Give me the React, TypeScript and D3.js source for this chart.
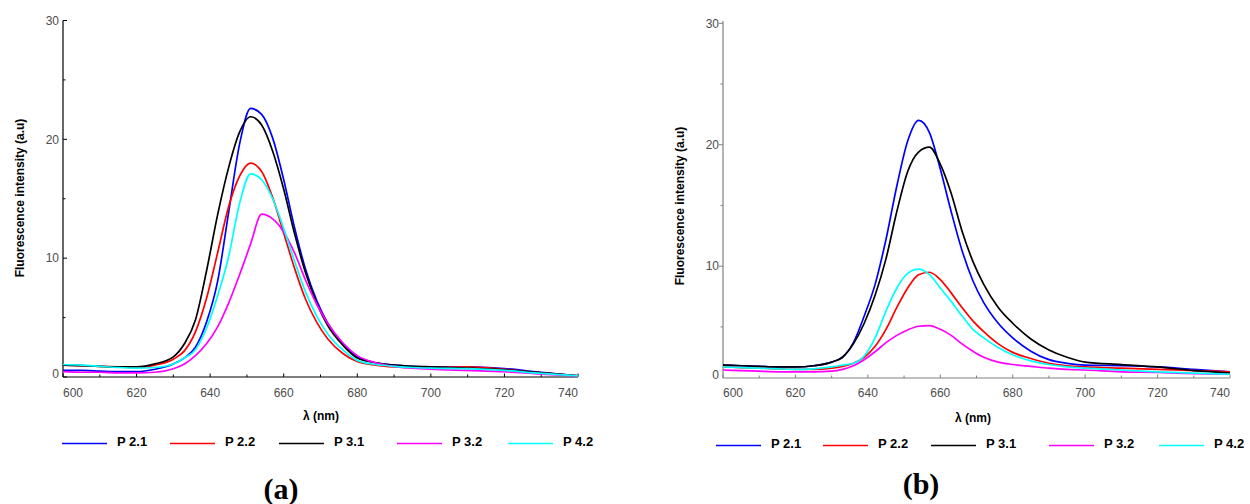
import React, { useEffect, useRef } from "react";
import * as d3 from "d3";

// wavelength grid (nm) shared by all spectra
const wavelengths = [600, 605, 610, 615, 620, 625, 630, 633, 636, 639, 642, 645, 648, 651, 654, 657, 660, 663, 666, 669, 672, 676, 680, 685, 690, 695, 700, 710, 720, 730, 740];

const seriesNames = ["P 2.1", "P 2.2", "P 3.1", "P 3.2", "P 4.2"];
const seriesColors = ["#0000ff", "#ff0000", "#000000", "#ff00ff", "#00ffff"];

// panel (a) intensities
const aP21 = [0.55, 0.55, 0.5, 0.45, 0.45, 0.65, 1.1, 1.6, 2.5, 4.6, 8.0, 13.8, 19.6, 22.6, 22.1, 20.1, 16.6, 12.5, 9.0, 6.4, 4.5, 2.8, 1.7, 1.2, 1.0, 0.9, 0.85, 0.85, 0.7, 0.4, 0.1];
const aP22 = [1.0, 0.95, 0.9, 0.85, 0.8, 1.0, 1.5, 2.2, 3.8, 6.6, 10.4, 14.3, 16.9, 18.0, 17.3, 15.1, 12.1, 9.1, 6.5, 4.6, 3.2, 2.0, 1.3, 1.0, 0.85, 0.8, 0.8, 0.85, 0.65, 0.35, 0.1];
const aP31 = [1.0, 0.95, 0.9, 0.85, 0.85, 1.1, 1.7, 2.8, 4.8, 8.9, 13.6, 17.6, 20.6, 21.9, 21.2, 19.0, 15.8, 12.0, 8.7, 6.2, 4.3, 2.7, 1.6, 1.2, 1.0, 0.9, 0.85, 0.75, 0.6, 0.35, 0.1];
const aP32 = [0.45, 0.4, 0.4, 0.35, 0.35, 0.4, 0.7, 1.1, 1.8, 2.8, 4.2, 6.2, 8.6, 11.2, 13.7, 13.3, 12.2, 10.4, 8.1, 6.1, 4.5, 2.9, 1.8, 1.2, 0.9, 0.75, 0.65, 0.55, 0.45, 0.25, 0.1];
const aP42 = [1.05, 1.0, 0.9, 0.8, 0.75, 0.8, 1.1, 1.6, 2.3, 4.1, 6.8, 10.1, 14.6, 17.1, 16.6, 15.0, 12.5, 9.7, 7.1, 5.1, 3.6, 2.3, 1.4, 1.05, 0.9, 0.8, 0.75, 0.7, 0.55, 0.3, 0.1];

// panel (b) intensities
const bP21 = [1.85, 1.8, 1.75, 1.7, 1.7, 1.8, 2.1, 2.5, 3.7, 5.9, 8.5, 12.2, 16.6, 20.3, 22.0, 21.0, 18.0, 14.5, 11.3, 8.8, 7.0, 5.3, 4.1, 3.0, 2.3, 2.0, 1.85, 1.8, 1.7, 1.5, 1.3];
const bP22 = [1.7, 1.65, 1.6, 1.55, 1.5, 1.5, 1.6, 1.75, 2.0, 2.5, 3.4, 4.8, 6.6, 8.2, 9.3, 9.5, 8.9, 7.8, 6.6, 5.5, 4.6, 3.6, 2.9, 2.4, 2.0, 1.8, 1.7, 1.6, 1.5, 1.4, 1.3];
const bP31 = [1.85, 1.8, 1.75, 1.7, 1.7, 1.8, 2.1, 2.5, 3.6, 5.3, 7.6, 10.6, 14.5, 17.8, 19.4, 19.8, 18.4, 16.0, 12.9, 10.4, 8.5, 6.6, 5.3, 4.0, 3.1, 2.5, 2.1, 1.9, 1.7, 1.4, 1.2];
const bP32 = [1.45, 1.4, 1.35, 1.3, 1.3, 1.3, 1.35, 1.5, 1.8, 2.3, 2.95, 3.7, 4.3, 4.75, 5.05, 5.1, 4.8, 4.3, 3.6, 3.0, 2.5, 2.1, 1.9, 1.75, 1.6, 1.5, 1.45, 1.3, 1.25, 1.15, 1.1];
const bP42 = [1.7, 1.65, 1.6, 1.55, 1.5, 1.55, 1.7, 1.85, 2.0, 2.6, 4.1, 6.3, 8.2, 9.4, 9.75, 9.3, 8.2, 7.1, 5.9, 4.8, 4.1, 3.3, 2.7, 2.2, 1.9, 1.7, 1.6, 1.45, 1.3, 1.2, 1.1];

const xTicks = [600, 620, 640, 660, 680, 700, 720, 740];
const xMinorTicks = [610, 630, 650, 670, 690, 710, 730];
const yTicks = [0, 10, 20, 30];
const yMinorTicks = [5, 15, 25];

const panels = [
  {
    data: [aP21, aP22, aP31, aP32, aP42],
    label: "(a)", labelX: 281, labelY: 499,
    left: 63, right: 578, top: 20.5, bottom: 377, yRange: [377, 20.5],
    axisColor: "#000", yTickDir: 1,
    yTitleX: 20, yTitleY: 198, xTitleX: 321, xTitleY: 420,
    legendX: [62, 170, 279, 397, 508], legendY: 443.5,
  },
  {
    data: [bP21, bP22, bP31, bP32, bP42],
    label: "(b)", labelX: 921, labelY: 494,
    left: 723, right: 1230, top: 21, bottom: 378, yRange: [387.6, 23.3],
    axisColor: "#808080", yTickDir: -1,
    yTitleX: 680, yTitleY: 206, xTitleX: 973, xTitleY: 422,
    legendX: [716, 823, 931, 1049, 1159], legendY: 445.5,
  },
];

export default function App() {
  const ref = useRef<SVGSVGElement>(null);

  useEffect(() => {
    const svg = d3.select(ref.current);
    svg.selectAll("*").remove();

    panels.forEach((p) => {
      const g = svg.append("g");
      const x = d3.scaleLinear().domain([600, 740]).range([p.left, p.right]);
      const y = d3.scaleLinear().domain([0, 30]).range(p.yRange);

      // axes lines
      g.append("line").attr("x1", p.left).attr("x2", p.left).attr("y1", p.top).attr("y2", p.bottom)
        .attr("stroke", p.axisColor).attr("stroke-width", 1.2);
      g.append("line").attr("x1", p.left).attr("x2", p.right).attr("y1", p.bottom).attr("y2", p.bottom)
        .attr("stroke", p.axisColor).attr("stroke-width", 1.2);

      // y ticks
      yTicks.concat(yMinorTicks).forEach((v) => {
        const yy = y(v);
        if (yy > p.bottom + 0.5) return;
        const len = yMinorTicks.includes(v) ? 2.5 : 4;
        g.append("line").attr("x1", p.left).attr("x2", p.left + p.yTickDir * len)
          .attr("y1", yy).attr("y2", yy).attr("stroke", p.axisColor).attr("stroke-width", 1);
      });
      yTicks.forEach((v) => {
        // labels are kept inside the axis extent
        const cy = Math.min(y(v), p.bottom - 3.8);
        g.append("text").attr("x", p.left - 4).attr("y", cy + 4.3)
          .attr("text-anchor", "end").attr("font-family", "Arial, 'Liberation Sans', sans-serif")
          .attr("font-size", 12).attr("fill", "#4d4d4d").text(v);
      });

      // x ticks
      xTicks.concat(xMinorTicks).forEach((v) => {
        const len = xMinorTicks.includes(v) ? 2.5 : 3.5;
        g.append("line").attr("x1", x(v)).attr("x2", x(v)).attr("y1", p.bottom).attr("y2", p.bottom - len)
          .attr("stroke", p.axisColor).attr("stroke-width", 1);
      });
      xTicks.forEach((v) => {
        const cx = Math.max(p.left + 10, Math.min(p.right - 10, x(v)));
        g.append("text").attr("x", cx).attr("y", 397)
          .attr("text-anchor", "middle").attr("font-family", "Arial, 'Liberation Sans', sans-serif")
          .attr("font-size", 12).attr("fill", "#4d4d4d").text(v);
      });

      // spectra
      const line = d3.line<number>()
        .x((_, i) => x(wavelengths[i]))
        .y((d) => y(d))
        .curve(d3.curveMonotoneX);
      p.data.forEach((vals, i) => {
        g.append("path").attr("d", line(vals)).attr("fill", "none")
          .attr("stroke", seriesColors[i]).attr("stroke-width", 1.7);
      });

      // titles
      g.append("text").attr("transform", `translate(${p.yTitleX},${p.yTitleY}) rotate(-90)`)
        .attr("text-anchor", "middle").attr("dy", "0.35em")
        .attr("font-family", "Arial, 'Liberation Sans', sans-serif").attr("font-weight", "bold")
        .attr("font-size", 12).attr("fill", "#000").text("Fluorescence intensity (a.u)");
      g.append("text").attr("x", p.xTitleX).attr("y", p.xTitleY)
        .attr("text-anchor", "middle")
        .attr("font-family", "Arial, 'Liberation Sans', sans-serif").attr("font-weight", "bold")
        .attr("font-size", 12).attr("fill", "#000").text("λ (nm)");

      // legend
      seriesNames.forEach((name, i) => {
        const lx = p.legendX[i];
        g.append("line").attr("x1", lx).attr("x2", lx + 45).attr("y1", p.legendY).attr("y2", p.legendY)
          .attr("stroke", seriesColors[i]).attr("stroke-width", 1.7);
        g.append("text").attr("x", lx + 55).attr("y", p.legendY + 2)
          .attr("font-family", "Arial, 'Liberation Sans', sans-serif").attr("font-weight", "bold")
          .attr("font-size", 13).attr("fill", "#000").text(name);
      });

      // panel label
      g.append("text").attr("x", p.labelX).attr("y", p.labelY).attr("text-anchor", "middle")
        .attr("font-family", "'Times New Roman', 'Liberation Serif', serif").attr("font-weight", "bold")
        .attr("font-size", 30).attr("fill", "#000").text(p.label);
    });
  }, []);

  return (
    <svg ref={ref} width={1250} height={504}
      style={{ position: "absolute", left: 0, top: 0, background: "#fff" }} />
  );
}
